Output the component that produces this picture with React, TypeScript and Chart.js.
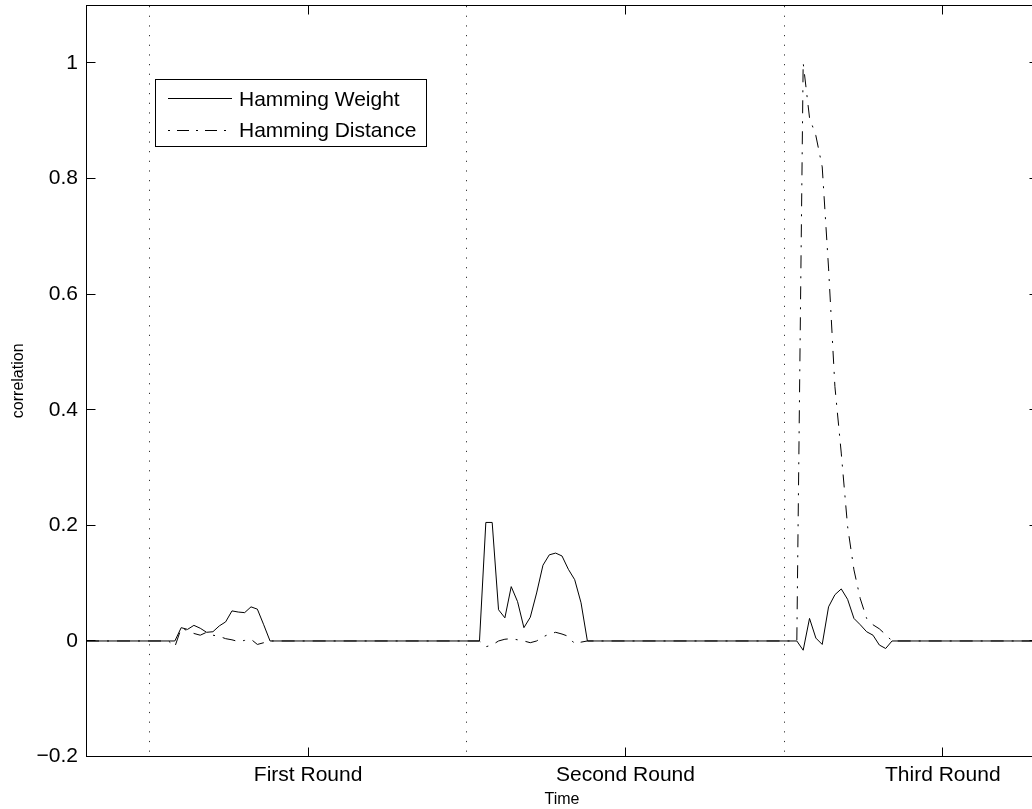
import React, { useEffect, useRef } from "react";
import { Chart, registerables } from "chart.js";

Chart.register(...registerables);

// ---- data (sample index along the trace, correlation value) ----
const hwX = [0, 14, 15, 16, 17, 18, 19, 20, 21, 22, 23, 24, 25, 26, 27, 28, 29,
  62, 63, 64, 65, 66, 67, 68, 69, 70, 71, 72, 73, 74, 75, 76, 77, 78, 79,
  112, 113, 114, 115, 116, 117, 118, 119, 120, 121, 122, 123, 124, 125, 126, 127, 150];
const hwY = [0, 0, 0.023, 0.02, 0.027, 0.022, 0.015, 0.016, 0.026, 0.033, 0.052, 0.05, 0.049, 0.059, 0.055, 0.028, 0,
  0, 0.205, 0.205, 0.054, 0.04, 0.094, 0.068, 0.023, 0.041, 0.083, 0.131, 0.149, 0.152, 0.147, 0.124, 0.106, 0.066, 0,
  0, -0.016, 0.039, 0.005, -0.006, 0.059, 0.08, 0.09, 0.072, 0.039, 0.028, 0.016, 0.01, -0.007, -0.013, 0, 0];

const hdX = [0, 13, 14, 15, 16, 17, 18, 19, 20, 21, 22, 23, 24, 25, 26, 27, 28, 29,
  62, 63, 64, 65, 66, 67, 68, 69, 70, 71, 72, 73, 74, 75, 76, 77, 78, 79,
  112, 113, 114, 115, 116, 117, 118, 119, 120, 121, 122, 123, 124, 125, 126, 127, 150];
const hdY = [0, 0, -0.01, 0.022, 0.018, 0.013, 0.01, 0.015, 0.01, 0.008, 0.004, 0.002, -0.001, 0.001, 0.003, -0.006, -0.003, 0,
  0, -0.01, -0.007, 0, 0.003, 0.004, 0.002, 0, -0.003, 0, 0.007, 0.012, 0.015, 0.012, 0.008, -0.005, -0.002, 0,
  0, 1.0, 0.905, 0.874, 0.82, 0.645, 0.44, 0.325, 0.198, 0.123, 0.073, 0.039, 0.028, 0.021, 0.011, 0, 0];

const seriesNames = ["Hamming Weight", "Hamming Distance"];
const roundBoundaries = [10, 60, 110];
const xTickValues = [35, 85, 135];
const xTickLabels = ["First Round", "Second Round", "Third Round"];
const yTickValues = [-0.2, 0, 0.2, 0.4, 0.6, 0.8, 1];
const X_MIN = 0;
const X_MAX = 150;
const Y_MIN = -0.2;
const Y_MAX = 1.1;

// ---- styles ----
const FONT = "'Liberation Sans', Arial, Helvetica, sans-serif";
const TICK_FONT_SIZE = 21;
const TITLE_FONT_SIZE = 16;
const HD_DASH = [13, 8, 2, 8];
const TICK_LEN = 9;

const fmtY = (v: number) => (v < 0 ? "\u2212" : "") + String(Math.abs(v));

const matlabFrame = {
  id: "matlabFrame",
  beforeDatasetsDraw(chart: any) {
    const { ctx, chartArea: a, scales } = chart;
    const x = scales.x;
    ctx.save();
    ctx.strokeStyle = "#333";
    ctx.lineWidth = 1;
    ctx.setLineDash([1.2, 8.47]);
    roundBoundaries.forEach((v) => {
      const px = Math.floor(x.getPixelForValue(v)) + 0.5;
      ctx.beginPath();
      ctx.moveTo(px, a.top + 1);
      ctx.lineTo(px, a.bottom);
      ctx.stroke();
    });
    ctx.restore();
  },
  afterDatasetsDraw(chart: any) {
    const { ctx, chartArea: a, scales } = chart;
    const x = scales.x;
    const y = scales.y;
    const L = Math.floor(a.left) + 0.5;
    const R = Math.floor(a.right) + 0.5;
    const T = Math.floor(a.top) + 0.5;
    const B = Math.floor(a.bottom) + 0.5;
    ctx.save();
    ctx.strokeStyle = "#000";
    ctx.lineWidth = 1;
    ctx.setLineDash([]);
    ctx.strokeRect(L, T, R - L, B - T);
    ctx.beginPath();
    yTickValues.forEach((v) => {
      const py = Math.floor(y.getPixelForValue(v)) + 0.5;
      ctx.moveTo(L, py);
      ctx.lineTo(L + TICK_LEN, py);
      ctx.moveTo(R, py);
      ctx.lineTo(R - TICK_LEN, py);
    });
    xTickValues.forEach((v) => {
      const px = Math.floor(x.getPixelForValue(v)) + 0.5;
      ctx.moveTo(px, B);
      ctx.lineTo(px, B - TICK_LEN);
      ctx.moveTo(px, T);
      ctx.lineTo(px, T + TICK_LEN);
    });
    ctx.stroke();

    // legend box
    const lx = 155.5, ly = 79.5, lw = 271, lh = 67;
    ctx.fillStyle = "#fff";
    ctx.fillRect(lx, ly, lw, lh);
    ctx.strokeRect(lx, ly, lw, lh);
    const rows = [98.5, 130.5];
    const sx0 = 168, sx1 = 232, tx = 239;
    ctx.beginPath();
    ctx.moveTo(sx0, rows[0]);
    ctx.lineTo(sx1, rows[0]);
    ctx.stroke();
    ctx.setLineDash([12, 7, 2, 7]);
    ctx.lineDashOffset = 19;
    ctx.beginPath();
    ctx.moveTo(sx0, rows[1]);
    ctx.lineTo(sx1, rows[1]);
    ctx.stroke();
    ctx.setLineDash([]);
    ctx.lineDashOffset = 0;
    ctx.fillStyle = "#000";
    ctx.font = `${TICK_FONT_SIZE}px ${FONT}`;
    ctx.textAlign = "left";
    ctx.textBaseline = "alphabetic";
    ctx.fillText(seriesNames[0], tx, 106);
    ctx.fillText(seriesNames[1], tx, 137);
    ctx.restore();
  },
};

export default function App() {
  const canvasRef = useRef<HTMLCanvasElement | null>(null);

  useEffect(() => {
    const canvas = canvasRef.current;
    if (!canvas) return;
    const chart = new Chart(canvas, {
      type: "line",
      data: {
        datasets: [
          {
            label: seriesNames[0],
            data: hwX.map((v, i) => ({ x: v, y: hwY[i] })),
            borderColor: "#000",
            borderWidth: 1,
            pointRadius: 0,
            tension: 0,
            fill: false,
          },
          {
            label: seriesNames[1],
            data: hdX.map((v, i) => ({ x: v, y: hdY[i] })),
            borderColor: "#000",
            borderWidth: 1,
            borderDash: HD_DASH,
            pointRadius: 0,
            tension: 0,
            fill: false,
          },
        ],
      },
      options: {
        responsive: false,
        animation: false,
        devicePixelRatio: 1,
        layout: { padding: { left: 0, right: 7, top: 5, bottom: 0 } },
        plugins: {
          legend: { display: false },
          tooltip: { enabled: false },
        },
        scales: {
          x: {
            type: "linear",
            min: X_MIN,
            max: X_MAX,
            grid: { display: false, drawTicks: false },
            border: { display: false },
            afterBuildTicks: (scale: any) => {
              scale.ticks = xTickValues.map((v) => ({ value: v }));
            },
            afterFit: (scale: any) => {
              scale.height = 52.4;
              scale.paddingLeft = 0;
              scale.paddingRight = 0;
              scale.paddingTop = 0;
              scale.paddingBottom = 0;
            },
            ticks: {
              autoSkip: false,
              maxRotation: 0,
              padding: 6,
              color: "#000",
              font: { family: FONT, size: TICK_FONT_SIZE },
              callback: (v: any) => xTickLabels[xTickValues.indexOf(Number(v))] ?? "",
            },
            title: {
              display: true,
              text: "Time",
              color: "#000",
              font: { family: FONT, size: TITLE_FONT_SIZE },
              padding: { top: 0, bottom: 0 },
            },
          },
          y: {
            type: "linear",
            min: Y_MIN,
            max: Y_MAX,
            grid: { display: false, drawTicks: false },
            border: { display: false },
            afterBuildTicks: (scale: any) => {
              scale.ticks = yTickValues.map((v) => ({ value: v }));
            },
            afterFit: (scale: any) => {
              scale.width = 86;
              scale.paddingLeft = 0;
              scale.paddingRight = 0;
              scale.paddingTop = 0;
              scale.paddingBottom = 0;
            },
            ticks: {
              padding: 8,
              color: "#000",
              font: { family: FONT, size: TICK_FONT_SIZE },
              callback: (v: any) => fmtY(Number(v)),
            },
            title: {
              display: true,
              text: "correlation",
              color: "#000",
              font: { family: FONT, size: TITLE_FONT_SIZE },
              padding: { top: 9, bottom: 0 },
            },
          },
        },
      },
      plugins: [matlabFrame],
    });
    return () => chart.destroy();
  }, []);

  return (
    <div
      style={{
        position: "fixed",
        left: 0,
        top: 0,
        width: 1032,
        height: 809,
        overflow: "hidden",
        background: "#fff",
      }}
    >
      <canvas
        ref={canvasRef}
        width={1045}
        height={809}
        style={{ display: "block", width: 1045, height: 809 }}
      />
    </div>
  );
}
